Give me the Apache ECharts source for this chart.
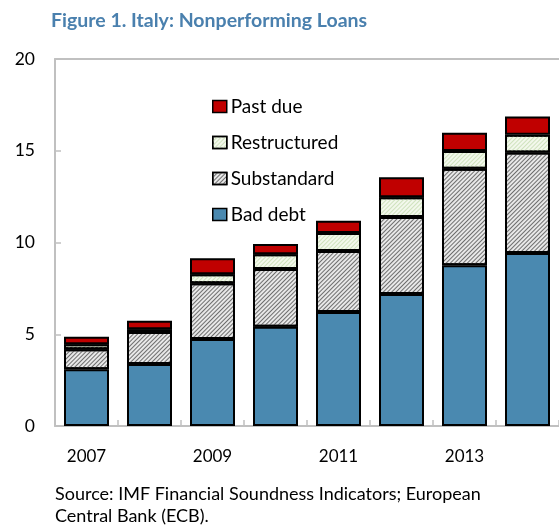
<!DOCTYPE html>
<html>
<head>
  <meta charset="utf-8">
  <script src="https://cdn.jsdelivr.net/npm/echarts@6/dist/echarts.min.js"></script>
  <title>Italy: Nonperforming Loans</title>
  <style>
    html, body { margin: 0; padding: 0; background: #fff; }
  </style>
</head>
<body>
<div id="main" style="width:559px;height:531px;"></div>
<script type="text/javascript">
  // data (percent of total loans)
  var years = ['2007', '2008', '2009', '2010', '2011', '2012', '2013', '2014'];
  var badDebt = [3.09, 3.38, 4.74, 5.41, 6.21, 7.19, 8.76, 9.43];
  var substandard = [1.09, 1.74, 3.04, 3.15, 3.33, 4.20, 5.26, 5.48];
  var restructured = [0.27, 0.15, 0.49, 0.80, 0.98, 1.07, 0.97, 0.96];
  var pastDue = [0.42, 0.47, 0.87, 0.56, 0.67, 1.09, 0.99, 0.99];
  var yTicks = [0, 5, 10, 15, 20];

  var font = 'Lato, "Open Sans", sans-serif';
  var axisGray = '#c0c0c0';

  var myChart = echarts.init(document.getElementById('main'));

  function barSeries(name, data, color, decal) {
    var s = {
      name: name,
      type: 'bar',
      stack: 'npl',
      barWidth: 45,
      data: data,
      itemStyle: {
        color: color,
        borderColor: '#000',
        borderWidth: 2
      }
    };
    if (decal) s.itemStyle.decal = decal;
    return s;
  }

  var option = {
    backgroundColor: '#fff',
    animation: false,
    title: [{
      text: 'Figure 1. Italy: Nonperforming Loans',
      left: 46,
      top: 6,
      textStyle: { fontFamily: font, fontSize: 19.5, fontWeight: 'bold', color: '#4a80ae' }
    }, {
      text: 'Source: IMF Financial Soundness Indicators; European\nCentral Bank (ECB).',
      left: 50,
      top: 478,
      textStyle: { fontFamily: font, fontSize: 18, fontWeight: 'normal', color: '#000', lineHeight: 22 }
    }],
    legend: {
      orient: 'vertical',
      left: 207,
      top: 92,
      icon: 'rect',
      itemWidth: 14,
      itemHeight: 12,
      itemGap: 17,
      itemStyle: { borderColor: '#000', borderWidth: 1.5 },
      data: ['Past due', 'Restructured', 'Substandard', 'Bad debt'],
      textStyle: { fontFamily: font, fontSize: 19, color: '#000', padding: [0, 0, 0, -1] }
    },
    grid: {
      left: 55,
      top: 59,
      width: 511,
      bottom: 105,
      containLabel: false
    },
    xAxis: [{
      type: 'category',
      data: years,
      axisLine: { lineStyle: { color: axisGray, width: 2 } },
      axisTick: { show: true, inside: true, length: 6, interval: 0, alignWithLabel: false, lineStyle: { color: axisGray, width: 1.5 } },
      axisLabel: { interval: 1, margin: 22, fontFamily: font, fontSize: 17, color: '#000' }
    }, {
      type: 'category',
      position: 'top',
      data: years,
      axisLine: { lineStyle: { color: axisGray, width: 2 } },
      axisTick: { show: false },
      axisLabel: { show: false }
    }],
    yAxis: {
      type: 'value',
      min: yTicks[0],
      max: yTicks[yTicks.length - 1],
      interval: 5,
      axisLine: { show: true, lineStyle: { color: axisGray, width: 2 } },
      axisTick: { show: true, inside: true, length: 6, lineStyle: { color: axisGray, width: 1.5 } },
      splitLine: { show: false },
      axisLabel: { margin: 20, fontFamily: font, fontSize: 17.5, color: '#000' }
    },
    series: [
      barSeries('Bad debt', badDebt, '#4a89b0'),
      barSeries('Substandard', substandard, '#e8e8e8', {
        symbol: 'rect',
        dashArrayX: [1, 0],
        dashArrayY: [1, 2],
        rotation: -Math.PI / 4,
        color: '#6e6e6e'
      }),
      barSeries('Restructured', restructured, '#f3f8ec', {
        symbol: 'rect',
        dashArrayX: [1, 0],
        dashArrayY: [1, 2],
        rotation: -Math.PI / 4,
        color: '#cfe2bd'
      }),
      barSeries('Past due', pastDue, '#c00000')
    ]
  };

  myChart.setOption(option);

  window.addEventListener('resize', function () {
    myChart.resize();
  });
</script>
</body>
</html>
